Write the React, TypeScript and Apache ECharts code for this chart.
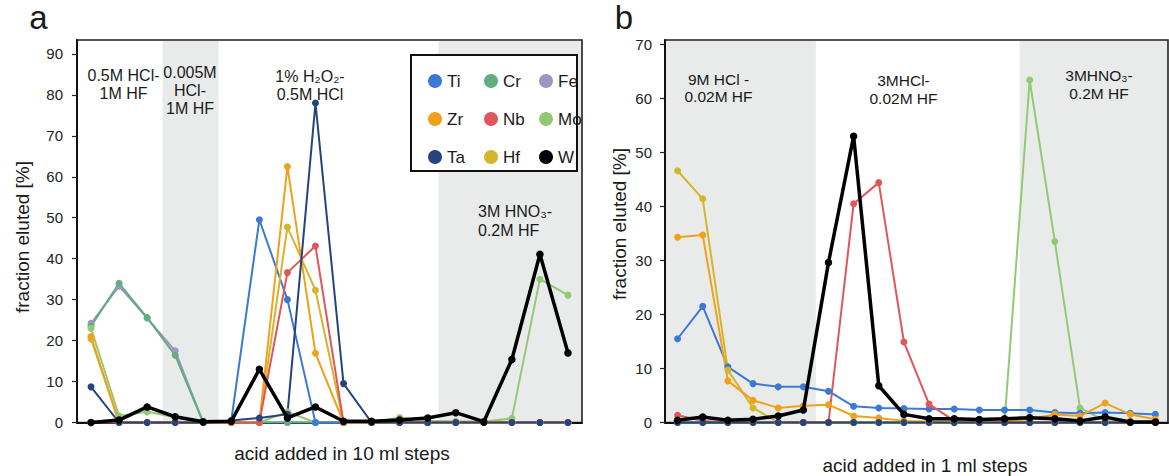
import React, { useEffect, useRef } from "react";
import * as echarts from "echarts";

// ---------- data ----------
const stepsA = ["1", "2", "3", "4", "5", "6", "7", "8", "9", "10", "11", "12", "13", "14", "15", "16", "17", "18"];
const stepsB = ["1", "2", "3", "4", "5", "6", "7", "8", "9", "10", "11", "12", "13", "14", "15", "16", "17", "18", "19", "20"];

// panel a (10 ml steps), fraction eluted [%]
const tiA = [0, 0, 0, 0, 0, 0.5, 49.5, 30.0, 0, 0, 0, 0, 0, 0, 0, 0, 0, 0];
const crA = [23.5, 34.0, 25.6, 16.4, 0, 0, 0, 0, 0, 0, 0, 0, 0, 0, 0, 0, 0, 0];
const feA = [24.2, 33.3, 25.5, 17.5, 0, 0, 0, 0, 0, 0, 0, 0, 0, 0, 0, 0, 0, 0];
const zrA = [21.0, 0, 0, 0, 0, 0, 0, 62.5, 16.9, 0, 0, 0, 0, 0, 0, 0, 0, 0];
const nbA = [0, 0, 0, 0, 0, 0, 0, 36.6, 43.1, 0, 0, 0, 0, 0, 0, 0, 0, 0];
const moA = [23.0, 1.6, 2.6, 1.3, 0, 0, 0, 2.6, 0, 0, 0, 1.2, 0.4, 0.3, 0.2, 1.0, 35.0, 31.1];
const taA = [8.7, 0, 0, 0, 0, 0.5, 1.1, 2.0, 78.0, 9.5, 0, 0, 0, 0, 0, 0, 0, 0];
const hfA = [20.4, 0, 0, 0, 0, 0, 0, 47.7, 32.3, 0, 0, 0, 0, 0, 0, 0, 0, 0];
const wA = [0, 0.6, 3.8, 1.4, 0.2, 0.3, 13.0, 1.1, 3.8, 0.3, 0.3, 0.6, 1.1, 2.4, 0.2, 15.4, 41.1, 17.0];

// panel b (1 ml steps), fraction eluted [%]
const tiB = [15.5, 21.5, 10.3, 7.2, 6.6, 6.6, 5.8, 3.0, 2.7, 2.6, 2.5, 2.5, 2.3, 2.3, 2.3, 1.85, 1.7, 1.85, 1.7, 1.5];
const crB = [0, 0, 0, 0, 0, 0, 0, 0, 0, 0, 0, 0, 0, 0, 0, 0, 0, 0, 0, 0];
const feB = [0, 0, 0, 0, 0, 0, 0, 0, 0, 0, 0, 0, 0, 0, 0, 0, 0, 0, 0, 0];
const zrB = [34.3, 34.7, 7.7, 4.1, 2.7, 3.1, 3.3, 1.2, 0.85, 0.3, 0.2, 0.2, 0.2, 0.3, 0.6, 1.5, 1.2, 3.6, 1.5, 0.6];
const nbB = [1.35, 0.3, 0, 0, 0, 0, 0, 40.5, 44.4, 14.9, 3.4, 0.3, 0, 0, 0, 0, 0, 0, 0, 0];
const moB = [0, 0, 0, 0, 0, 0, 0, 0, 0, 0, 0, 0, 0, 0, 63.4, 33.5, 2.7, 0.3, 0, 0];
const taB = [0, 0, 0, 0, 0, 0, 0, 0, 0, 0, 0, 0, 0, 0, 0, 0, 0, 0, 0, 0];
const hfB = [46.6, 41.4, 9.7, 2.7, 0, 0, 0, 0, 0, 0, 0, 0, 0, 0, 0, 0, 0, 0, 0, 0];
const wB = [0.4, 1.0, 0.4, 0.6, 1.2, 2.3, 29.6, 53.0, 6.8, 1.5, 0.7, 0.7, 0.55, 0.7, 0.9, 0.7, 0.3, 1.0, 0.1, 0.1];

// shaded eluent regions, in step units from the left edge of each panel
const shadeA = [[3.05, 5.04], [12.88, 18]];
const shadeB = [[0, 6.0], [14.1, 20]];

const yTicksA = { min: 0, max: 93.4, interval: 10 };
const yTicksB = { min: 0, max: 70.8, interval: 10 };

const colors: Record<string, string> = {
  Ti: "#3b79d6",
  Cr: "#62ad80",
  Fe: "#9c97c2",
  Zr: "#f0a11c",
  Nb: "#e0575b",
  Mo: "#94c974",
  Ta: "#25437c",
  Hf: "#d4b52b",
  W: "#000000",
};

const drawOrder = ["Fe", "Cr", "Mo", "Ti", "Hf", "Zr", "Nb", "Ta", "W"];
const dataA: Record<string, number[]> = { Ti: tiA, Cr: crA, Fe: feA, Zr: zrA, Nb: nbA, Mo: moA, Ta: taA, Hf: hfA, W: wA };
const dataB: Record<string, number[]> = { Ti: tiB, Cr: crB, Fe: feB, Zr: zrB, Nb: nbB, Mo: moB, Ta: taB, Hf: hfB, W: wB };

const legendCols = [["Ti", "Zr", "Ta"], ["Cr", "Nb", "Hf"], ["Fe", "Mo", "W"]];

const FONT = "'Liberation Sans', Arial, Helvetica, sans-serif";
const TXT = "#1a1a1a";

export default function App() {
  const ref = useRef<HTMLDivElement>(null);

  useEffect(() => {
    document.body.style.margin = "0";
    if (!ref.current) return;
    const chart = echarts.init(ref.current, undefined, { renderer: "svg" });

    const lineSeries = (grid: number, data: Record<string, number[]>) =>
      drawOrder.map((name) => ({
        type: "line",
        name,
        xAxisIndex: grid * 2,
        yAxisIndex: grid,
        data: data[name],
        symbol: "circle",
        symbolSize: name === "W" ? 7.5 : 7,
        showSymbol: true,
        color: colors[name],
        lineStyle: { width: name === "W" ? 3.5 : 2, color: colors[name] },
        itemStyle: { color: colors[name] },
        z: name === "W" ? 5 : 3,
        emphasis: { disabled: true },
      }));

    const shadeSeries = (grid: number, data: number[][], ymax: number) => ({
      type: "custom",
      xAxisIndex: grid * 2 + 1,
      yAxisIndex: grid,
      silent: true,
      z: -1,
      data,
      encode: { x: 0, y: 1 },
      renderItem: (_p: any, api: any) => {
        const p0 = api.coord([api.value(0), ymax]);
        const p1 = api.coord([api.value(1), 0]);
        return {
          type: "rect",
          shape: { x: p0[0], y: p0[1], width: p1[0] - p0[0], height: p1[1] - p0[1] },
          style: { fill: "#e9ebea" },
        };
      },
    });

    const catAxis = (grid: number, cats: string[]) => ({
      type: "category",
      gridIndex: grid,
      data: cats,
      boundaryGap: true,
      axisLine: { lineStyle: { color: "#111", width: 2 } },
      axisTick: { alignWithLabel: true, length: 5, lineStyle: { color: "#222", width: 1.2 } },
      axisLabel: { show: false },
      splitLine: { show: false },
    });
    const hiddenX = (grid: number, n: number) => ({
      type: "value",
      gridIndex: grid,
      min: 0,
      max: n,
      show: false,
    });
    const yAxis = (grid: number, t: { min: number; max: number; interval: number }, margin: number) => ({
      type: "value",
      gridIndex: grid,
      min: t.min,
      max: t.max,
      interval: t.interval,
      axisLine: { show: true, lineStyle: { color: "#111", width: 2 } },
      axisTick: { show: true, length: 5, lineStyle: { color: "#222", width: 1.2 } },
      axisLabel: { color: "#222", fontSize: 15, fontFamily: FONT, margin, showMaxLabel: false },
      splitLine: { show: false },
    });

    const legends = legendCols.map((col, i) => ({
      orient: "vertical",
      left: [423, 479, 534][i],
      top: 66,
      itemWidth: 14,
      itemHeight: 14,
      itemGap: 18,
      icon: "circle",
      selectedMode: false,
      data: col,
      textStyle: { fontSize: 17, fontFamily: FONT, color: TXT, lineHeight: 20 },
      z: 10,
    }));

    const text = (x: number, y: number, t: string, size: number, align = "center", lh = 18.5) => ({
      type: "text",
      x,
      y,
      z: 20,
      style: {
        text: t,
        fill: TXT,
        font: `${size}px ${FONT}`,
        textAlign: align,
        textVerticalAlign: "top",
        lineHeight: lh,
      },
    });

    chart.setOption({
      animation: false,
      grid: [
        { left: 77, top: 40, width: 505, height: 382.5, show: true, borderColor: "#222", borderWidth: 1.6 },
        { left: 665, top: 40, width: 503, height: 382.5, show: true, borderColor: "#222", borderWidth: 1.6 },
      ],
      xAxis: [catAxis(0, stepsA), hiddenX(0, stepsA.length), catAxis(1, stepsB), hiddenX(1, stepsB.length)],
      yAxis: [yAxis(0, yTicksA, 14), yAxis(1, yTicksB, 13)],
      legend: legends,
      series: [
        shadeSeries(0, shadeA, yTicksA.max),
        shadeSeries(1, shadeB, yTicksB.max),
        ...lineSeries(0, dataA),
        ...lineSeries(1, dataB),
      ],
      graphic: [
        {
          type: "rect",
          z: 5,
          shape: { x: 411, y: 55, width: 166, height: 116 },
          style: { fill: "#ffffff", stroke: "#111", lineWidth: 2 },
        },
        text(38.5, 8, "a", 33),
        text(624, 8, "b", 33),
        text(123.5, 66, "0.5M HCl-\n1M HF", 16),
        text(190, 63, "0.005M\nHCl-\n1M HF", 16, "center", 18),
        text(310, 68, "1% H₂O₂-\n0.5M HCl", 16, "center", 17.5),
        text(478, 202, "3M HNO₃-\n0.2M HF", 16, "left", 19),
        text(718.5, 71, "9M HCl -\n0.02M HF", 15.5, "center", 17),
        text(903.5, 71, "3MHCl-\n0.02M HF", 15.5, "center", 18),
        text(1099, 67, "3MHNO₃-\n0.2M HF", 15.5, "center", 17.5),
        text(342, 444, "acid added in 10 ml steps", 19),
        text(925, 456, "acid added in 1 ml steps", 19),
        {
          type: "text",
          x: 22,
          y: 237,
          rotation: Math.PI / 2,
          z: 20,
          style: { text: "fraction eluted [%]", fill: TXT, font: `19px ${FONT}`, textAlign: "center", textVerticalAlign: "middle" },
        },
        {
          type: "text",
          x: 619,
          y: 224,
          rotation: Math.PI / 2,
          z: 20,
          style: { text: "fraction eluted [%]", fill: TXT, font: `19px ${FONT}`, textAlign: "center", textVerticalAlign: "middle" },
        },
      ],
    });

    return () => chart.dispose();
  }, []);

  return <div ref={ref} style={{ width: 1169, height: 476 }} />;
}
